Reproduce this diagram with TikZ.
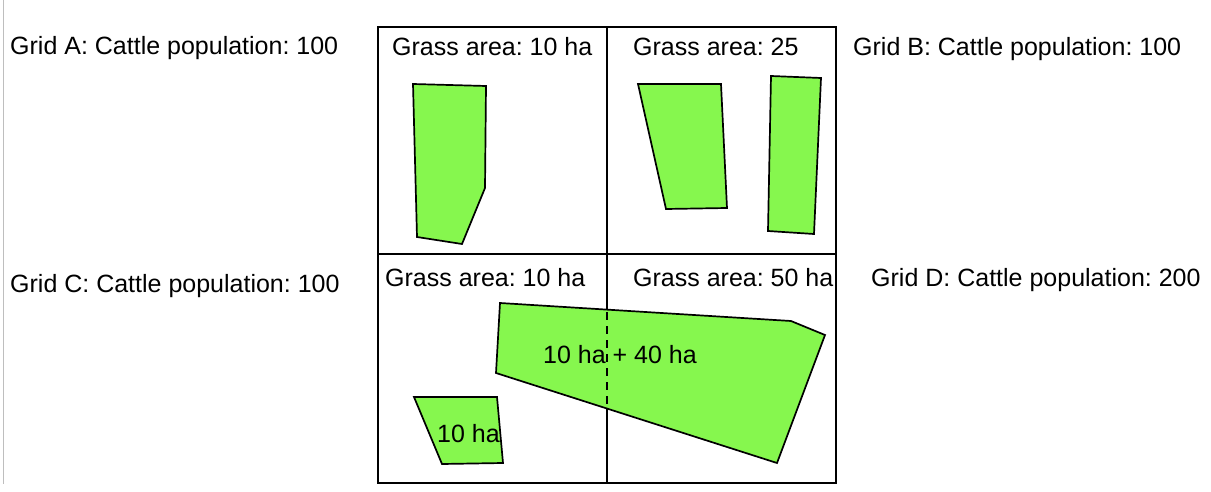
\documentclass[tikz,border=0pt]{standalone}
\usepackage{fontspec}
\setmainfont{Liberation Sans}
\frenchspacing
\definecolor{grass}{RGB}{134,247,78}
\definecolor{edge}{RGB}{190,190,190}
\tikzset{
  lbl/.style={anchor=base west, inner sep=0pt, font=\fontsize{25}{30}\selectfont},
  gridline/.style={line width=2pt, black},
  patch/.style={fill=grass, draw=black, line width=1.7pt, line join=miter},
}
\begin{document}
\begin{tikzpicture}[x=1pt,y=-1pt]
\useasboundingbox (0,0) rectangle (1211,492);
\draw[edge, line width=1pt] (3.5,0) -- (3.5,484);
% grid
\draw[gridline] (378,27) rectangle (836,483);
\draw[gridline] (378,254) -- (836,254);
\draw[gridline] (607,27) -- (607,483);
% patches
\draw[patch] (413,84) -- (486,86) -- (485,188) -- (462,244) -- (417,237) -- cycle;
\draw[patch] (638,84) -- (721,84) -- (727,208) -- (666,209) -- cycle;
\draw[patch] (771,76) -- (821,78) -- (814,234) -- (768,231) -- cycle;
\draw[patch] (500,303) -- (791,321) -- (825,335) -- (777,463) -- (496,373) -- cycle;
\draw[patch] (414,397) -- (497,397) -- (503,463) -- (442,464) -- cycle;
\coordinate (dtop) at (607,312);
\coordinate (dbot) at (607,407);
\draw[line width=1.7pt, dash pattern=on 8pt off 6pt] (dtop) -- (dbot);
% labels
\node[lbl] (ga) at (10,55) {Grid A: Cattle population: 100};
\node[lbl] (gb) at (853,56) {Grid B: Cattle population: 100};
\node[lbl] (gc) at (10,292) {Grid C: Cattle population: 100};
\node[lbl] (gd) at (871,286) {Grid D: Cattle population: 200};
\node[lbl] (sa) at (392,56) {Grass area: 10 ha};
\node[lbl] (sb) at (633,56) {Grass area: 25};
\node[lbl] (sc) at (385,286) {Grass area: 10 ha};
\node[lbl] (sd) at (633,286) {Grass area: 50 ha};
\node[lbl] (big) at (543,363) {10 ha + 40 ha};
\node[lbl] (small) at (437,442) {10 ha};
\end{tikzpicture}
\end{document}
